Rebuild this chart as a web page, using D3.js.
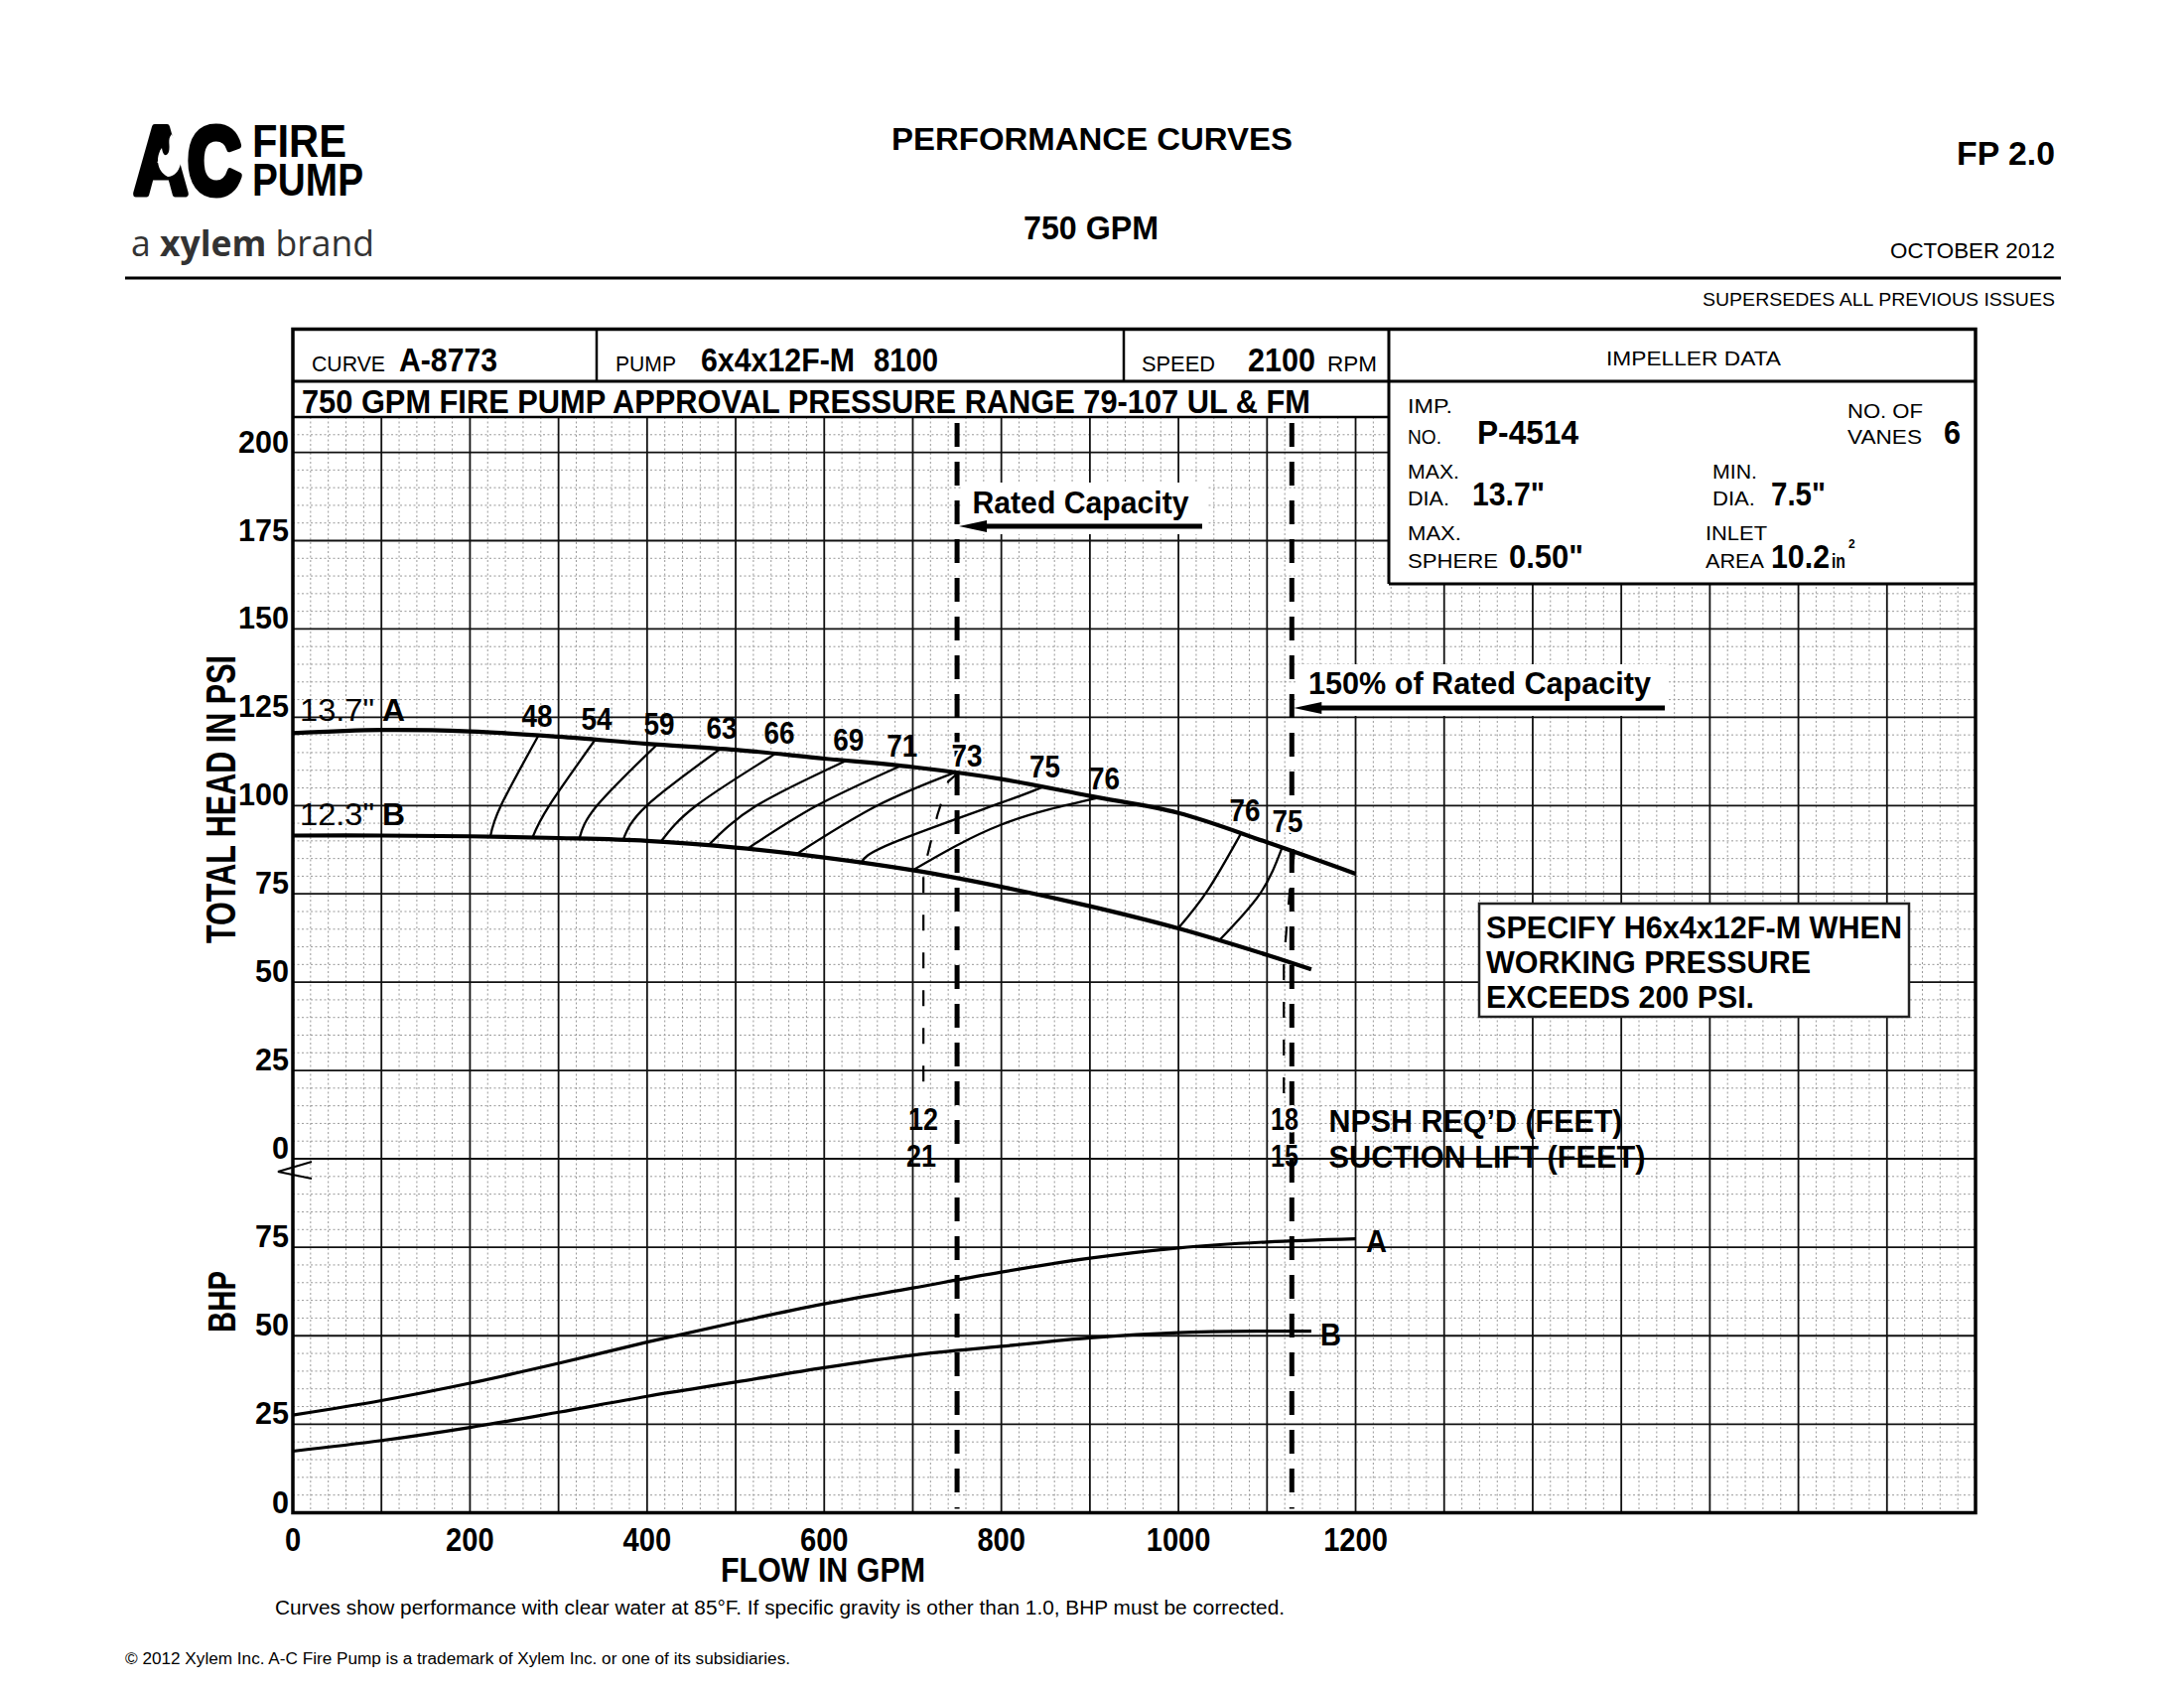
<!DOCTYPE html>
<html>
<head>
<meta charset="utf-8">
<script src="https://cdn.jsdelivr.net/npm/d3@7"></script>
<style>
  body { margin: 0; background: #fff; }
  svg { display: block; font-family: "Liberation Sans", Arial, Helvetica, sans-serif; }
</style>
</head>
<body>
<div id="wrapper"></div>
<script>
// values
const flowTicks = [0, 200, 400, 600, 800, 1000, 1200]
const headTicks = [0, 25, 50, 75, 100, 125, 150, 175, 200]
const bhpTicks = [0, 25, 50, 75]

// head curves (gpm -> psi)
const flowA = [0, 100, 200, 300, 400, 500, 600, 700, 800, 900, 1000, 1100, 1200]
const headA = [120.5, 121.4, 121.0, 119.5, 117.5, 115.8, 113.3, 110.9, 107.5, 102.7, 97.9, 89.6, 80.7]
const flowB = [0, 100, 200, 300, 400, 500, 600, 700, 800, 900, 1000, 1100, 1150]
const headB = [91.5, 91.5, 91.3, 90.8, 90.0, 88.1, 85.3, 81.7, 77.0, 71.5, 65.2, 57.7, 53.6]

// brake horsepower curves (gpm -> bhp)
const bhpA = [27.6, 31.7, 36.6, 42.2, 48.2, 53.8, 59.0, 63.5, 68.0, 71.9, 74.8, 76.5, 77.4]
const bhpB = [17.4, 20.4, 24.1, 28.4, 32.9, 36.9, 41.0, 44.5, 47.0, 49.4, 50.9, 51.3, 51.3]

// iso-efficiency lines, each from curve B up to curve A
const effValues = [48, 54, 59, 63, 66, 69, 71, 73, 75, 76, 76, 75]
const effLines = [
  [[223, 91.2], [235, 100], [277.5, 119.9]],
  [[271, 91.2], [289.5, 100], [341.5, 118.7]],
  [[323.5, 90.7], [343.5, 100], [411.4, 117.3]],
  [[373, 90.3], [399.6, 100], [483.6, 116.2]],
  [[415.6, 89.8], [455.6, 100], [545.7, 114.8]],
  [[469.7, 88.9], [523.7, 100], [623.8, 112.6]],
  [[513.5, 87.8], [591.8, 100], [685.9, 111.2]],
  [[569.5, 86.4], [660, 100], [750, 109.6]],
  [[641.8, 83.9], [678, 89.5], [800, 100.8], [848, 105.4]],
  [[700, 81.7], [800, 94.6], [910, 102.2]],
  [[999.6, 65.2], [1033, 76], [1070.6, 92.1]],
  [[1046.3, 61.9], [1092, 75], [1117, 88.1]],
]
// where each efficiency number sits (gpm, psi at baseline centre)
const effLabelAt = [
  [275.8, 122.4], [343, 121.4], [413.7, 120.0], [484.3, 118.9], [549.3, 117.5], [627.4, 115.5],
  [687.9, 113.9], [761.2, 111.1], [849.2, 108.0], [916.5, 104.6], [1075.1, 95.7], [1123.3, 92.5],
]

// NPSH limit lines
const npshLow = [[752, 109.5], [740, 106.8], [728, 97.5], [716, 85.3], [712, 81.5], [712, 18]]
const npshHigh = [[1131, 87], [1127, 80], [1121, 62], [1119, 55], [1119, 18]]

const ratedFlow = 750
const maxFlowLine = 1128

async function drawChart() {

  let dimensions = {
    width: 2200,
    height: 1700,
    left: 295,
    right: 1990,
    top: 420,
    zero: 1167,
    bottom: 1523.5,
  }

  const wrapper = d3.select("#wrapper")
    .append("svg")
    .attr("width", dimensions.width)
    .attr("height", dimensions.height)

  wrapper.append("rect")
    .attr("width", dimensions.width)
    .attr("height", dimensions.height)
    .attr("fill", "#fff")

  const xScale = d3.scaleLinear()
    .domain([0, 1900])
    .range([dimensions.left, dimensions.right])
  const headScale = d3.scaleLinear()
    .domain([0, 210])
    .range([dimensions.zero, dimensions.top])
  const bhpScale = d3.scaleLinear()
    .domain([0, 100])
    .range([dimensions.bottom, dimensions.zero])

  function label(g, s, x, y, o = {}) {
    const t = g.append("text")
      .attr("x", x)
      .attr("y", y)
      .attr("font-size", o.size || 32)
      .attr("font-weight", o.bold === false ? "normal" : "bold")
      .attr("text-anchor", o.anchor || "start")
      .attr("fill", o.fill || "#000")
      .text(s)
    if (o.len) t.attr("textLength", o.len).attr("lengthAdjust", "spacingAndGlyphs")
    if (o.halo) t.attr("stroke", "#fff").attr("stroke-width", 5).attr("paint-order", "stroke")
    return t
  }

  // ---------- grid ----------
  const grid = wrapper.append("g")
  const minorX = d3.range(20, 1900, 20).filter(v => v % 100)
  const minorHead = d3.range(5, 210, 5).filter(v => v % 25)
  const minorBhp = d3.range(5, 100, 5).filter(v => v % 25)

  grid.selectAll(".minor-x")
    .data(minorX)
    .enter().append("line")
    .attr("x1", d => xScale(d)).attr("x2", d => xScale(d))
    .attr("y1", dimensions.top).attr("y2", dimensions.bottom)
    .attr("stroke", "#999").attr("stroke-width", 1).attr("stroke-dasharray", "2,2.5")

  grid.selectAll(".minor-h")
    .data(minorHead)
    .enter().append("line")
    .attr("x1", dimensions.left).attr("x2", dimensions.right)
    .attr("y1", d => headScale(d)).attr("y2", d => headScale(d))
    .attr("stroke", "#999").attr("stroke-width", 1).attr("stroke-dasharray", "2,2.5")

  grid.selectAll(".minor-b")
    .data(minorBhp)
    .enter().append("line")
    .attr("x1", dimensions.left).attr("x2", dimensions.right)
    .attr("y1", d => bhpScale(d)).attr("y2", d => bhpScale(d))
    .attr("stroke", "#999").attr("stroke-width", 1).attr("stroke-dasharray", "2,2.5")

  grid.selectAll(".major-x")
    .data(d3.range(100, 1900, 100))
    .enter().append("line")
    .attr("x1", d => xScale(d)).attr("x2", d => xScale(d))
    .attr("y1", dimensions.top).attr("y2", dimensions.bottom)
    .attr("stroke", "#111").attr("stroke-width", 1.8)

  grid.selectAll(".major-h")
    .data(headTicks)
    .enter().append("line")
    .attr("x1", dimensions.left).attr("x2", dimensions.right)
    .attr("y1", d => headScale(d)).attr("y2", d => headScale(d))
    .attr("stroke", "#111").attr("stroke-width", 1.8)

  grid.selectAll(".major-b")
    .data(bhpTicks.filter(d => d > 0))
    .enter().append("line")
    .attr("x1", dimensions.left).attr("x2", dimensions.right)
    .attr("y1", d => bhpScale(d)).attr("y2", d => bhpScale(d))
    .attr("stroke", "#111").attr("stroke-width", 1.8)

  // ---------- capacity lines ----------
  const marks = wrapper.append("g")
  marks.selectAll(".cap")
    .data([ratedFlow, maxFlowLine])
    .enter().append("line")
    .attr("x1", d => xScale(d)).attr("x2", d => xScale(d))
    .attr("y1", dimensions.top + 6).attr("y2", dimensions.bottom - 4)
    .attr("stroke", "#000").attr("stroke-width", 5).attr("stroke-dasharray", "24,15")

  // NPSH dashed lines
  const npshLine = d3.line()
    .x(d => xScale(d[0]))
    .y(d => headScale(d[1]))
  marks.selectAll(".npsh")
    .data([npshLow, npshHigh])
    .enter().append("path")
    .attr("d", npshLine)
    .attr("fill", "none").attr("stroke", "#000").attr("stroke-width", 2.2)
    .attr("stroke-dasharray", "16,22")

  // efficiency lines
  const effLine = d3.line()
    .x(d => xScale(d[0]))
    .y(d => headScale(d[1]))
    .curve(d3.curveNatural)
  marks.selectAll(".eff")
    .data(effLines)
    .enter().append("path")
    .attr("d", effLine)
    .attr("fill", "none").attr("stroke", "#000").attr("stroke-width", 2.3)

  // head curves
  const headLine = d3.line()
    .x(d => xScale(d[0]))
    .y(d => headScale(d[1]))
    .curve(d3.curveCatmullRom)
  marks.selectAll(".head")
    .data([d3.zip(flowA, headA), d3.zip(flowB, headB)])
    .enter().append("path")
    .attr("d", headLine)
    .attr("fill", "none").attr("stroke", "#000").attr("stroke-width", 4.2)

  // bhp curves
  const bhpLine = d3.line()
    .x(d => xScale(d[0]))
    .y(d => bhpScale(d[1]))
    .curve(d3.curveCatmullRom)
  marks.selectAll(".bhp")
    .data([d3.zip(flowA, bhpA), d3.zip(flowB, bhpB)])
    .enter().append("path")
    .attr("d", bhpLine)
    .attr("fill", "none").attr("stroke", "#000").attr("stroke-width", 3.2)

  const notes = wrapper.append("g")

  // efficiency numbers (the two sitting on the capacity lines get a white halo)
  effValues.forEach((v, i) => {
    label(notes, v, xScale(effLabelAt[i][0]), headScale(effLabelAt[i][1]),
      { anchor: "middle", len: 31, halo: i === 7 || i === 11 })
  })

  // curve names
  label(notes, "13.7\"", 302, 726, { bold: false, len: 75 })
  label(notes, "A", 385, 726, { len: 23 })
  label(notes, "12.3\"", 302, 831, { bold: false, len: 75 })
  label(notes, "B", 385, 831, { len: 23 })
  label(notes, "A", 1376, 1261, { len: 21 })
  label(notes, "B", 1330, 1355, { len: 21 })

  // rated capacity callouts
  const arrow = (x1, x2, y) => {
    notes.append("rect")
      .attr("x", x1 + 4).attr("y", y - 44).attr("width", x2 - x1).attr("height", 52)
      .attr("fill", "#fff")
    notes.append("line")
      .attr("x1", x1 + 18).attr("x2", x2).attr("y1", y).attr("y2", y)
      .attr("stroke", "#000").attr("stroke-width", 5)
    notes.append("path")
      .attr("d", `M${x1 + 2},${y} L${x1 + 30},${y - 6} L${x1 + 30},${y + 6} Z`)
      .attr("fill", "#000")
  }
  arrow(xScale(ratedFlow), 1211, 530)
  label(notes, "Rated Capacity", 979.5, 517, { len: 218 })
  arrow(xScale(maxFlowLine), 1677, 713)
  label(notes, "150% of Rated Capacity", 1318, 699, { len: 345 })

  // NPSH numbers
  label(notes, "12", 930, 1138, { anchor: "middle", len: 30 })
  label(notes, "21", 928, 1175, { anchor: "middle", len: 30 })
  label(notes, "18", 1294, 1138, { anchor: "middle", len: 28, halo: true })
  label(notes, "15", 1294, 1175, { anchor: "middle", len: 28 })
  label(notes, "NPSH REQ\u2019D (FEET)", 1338.5, 1139.5, { len: 296 })
  label(notes, "SUCTION LIFT (FEET)", 1338.5, 1176, { len: 319 })

  // specify box
  notes.append("rect")
    .attr("x", 1490).attr("y", 910).attr("width", 433).attr("height", 114)
    .attr("fill", "#fff").attr("stroke", "#222").attr("stroke-width", 2.5)
  label(notes, "SPECIFY H6x4x12F-M WHEN", 1497, 945, { len: 419 })
  label(notes, "WORKING PRESSURE", 1497, 980, { len: 327 })
  label(notes, "EXCEEDS 200 PSI.", 1497, 1015, { len: 270 })

  // ---------- header table ----------
  const table = wrapper.append("g")
  table.append("rect")
    .attr("x", 1399).attr("y", 331.5).attr("width", dimensions.right - 1399).attr("height", 588 - 331.5)
    .attr("fill", "#fff")
  table.append("rect")
    .attr("x", dimensions.left).attr("y", 331.5).attr("width", 1399 - dimensions.left).attr("height", dimensions.top - 331.5)
    .attr("fill", "#fff")

  const rules = [
    [dimensions.left, 384, dimensions.right, 384, 3],
    [dimensions.left, dimensions.top, 1399, dimensions.top, 2.5],
    [601, 331.5, 601, 384, 2.5],
    [1132, 331.5, 1132, 384, 2.5],
    [1399, 331.5, 1399, 588, 3],
    [1399, 588, dimensions.right, 588, 3],
  ]
  table.selectAll(".rule")
    .data(rules)
    .enter().append("line")
    .attr("x1", d => d[0]).attr("y1", d => d[1]).attr("x2", d => d[2]).attr("y2", d => d[3])
    .attr("stroke", "#000").attr("stroke-width", d => d[4])

  table.append("rect")
    .attr("x", dimensions.left).attr("y", 331.5)
    .attr("width", dimensions.right - dimensions.left).attr("height", dimensions.bottom - 331.5)
    .attr("fill", "none").attr("stroke", "#000").attr("stroke-width", 3.5)

  label(table, "CURVE", 314, 374, { bold: false, size: 22, len: 74 })
  label(table, "A-8773", 402, 374, { size: 33, len: 99 })
  label(table, "PUMP", 620, 374, { bold: false, size: 22, len: 61 })
  label(table, "6x4x12F-M", 706, 374, { size: 33, len: 155 })
  label(table, "8100", 880, 374, { size: 33, len: 65 })
  label(table, "SPEED", 1150, 374, { bold: false, size: 22, len: 74 })
  label(table, "2100", 1257, 374, { size: 33, len: 68 })
  label(table, "RPM", 1337, 374, { bold: false, size: 22, len: 50 })
  label(table, "IMPELLER DATA", 1706, 368, { bold: false, size: 21, anchor: "middle", len: 176 })
  label(table, "750 GPM FIRE PUMP APPROVAL PRESSURE RANGE 79-107 UL & FM", 304, 416, { size: 33, len: 1016 })

  const small = { bold: false, size: 20 }
  label(table, "IMP.", 1418, 416, { ...small, len: 45 })
  label(table, "NO.", 1418, 447, { ...small, len: 34 })
  label(table, "P-4514", 1488, 447, { size: 34, len: 102 })
  label(table, "NO. OF", 1861, 421, { ...small, len: 76 })
  label(table, "VANES", 1861, 447, { ...small, len: 75 })
  label(table, "6", 1958, 447, { size: 34, len: 17 })
  label(table, "MAX.", 1418, 482, { ...small, len: 52 })
  label(table, "DIA.", 1418, 509, { ...small, len: 42 })
  label(table, "13.7\"", 1483, 509, { size: 34, len: 73 })
  label(table, "MIN.", 1725, 482, { ...small, len: 45 })
  label(table, "DIA.", 1725, 509, { ...small, len: 43 })
  label(table, "7.5\"", 1784, 509, { size: 34, len: 55 })
  label(table, "MAX.", 1418, 544, { ...small, len: 54 })
  label(table, "SPHERE", 1418, 572, { ...small, len: 91 })
  label(table, "0.50\"", 1520, 572, { size: 34, len: 75 })
  label(table, "INLET", 1718, 544, { ...small, len: 62 })
  label(table, "AREA", 1718, 572, { ...small, len: 59 })
  label(table, "10.2", 1784, 572, { size: 34, len: 59 })
  label(table, "in", 1845, 572, { size: 21, len: 14 })
  label(table, "2", 1862, 552, { size: 12 })

  // ---------- axes ----------
  const axes = wrapper.append("g")
  axes.selectAll(".head-tick")
    .data(headTicks)
    .enter().append("text")
    .attr("x", 291)
    .attr("y", d => headScale(d))
    .attr("text-anchor", "end")
    .attr("font-size", 32)
    .attr("font-weight", "bold")
    .attr("textLength", d => String(d).length * 17)
    .attr("lengthAdjust", "spacingAndGlyphs")
    .text(d => d)

  axes.selectAll(".bhp-tick")
    .data(bhpTicks)
    .enter().append("text")
    .attr("x", 291)
    .attr("y", d => bhpScale(d))
    .attr("text-anchor", "end")
    .attr("font-size", 32)
    .attr("font-weight", "bold")
    .attr("textLength", d => String(d).length * 17)
    .attr("lengthAdjust", "spacingAndGlyphs")
    .text(d => d)

  axes.selectAll(".flow-tick")
    .data(flowTicks)
    .enter().append("text")
    .attr("x", d => xScale(d))
    .attr("y", 1562)
    .attr("text-anchor", "middle")
    .attr("font-size", 34)
    .attr("font-weight", "bold")
    .attr("textLength", d => String(d).length * 16.2)
    .attr("lengthAdjust", "spacingAndGlyphs")
    .text(d => d)

  // axis break mark at zero
  axes.append("path")
    .attr("d", `M314,${dimensions.zero + 3} L280,${dimensions.zero + 13} L314,${dimensions.zero + 20}`)
    .attr("fill", "none").attr("stroke", "#000").attr("stroke-width", 2)

  label(axes, "TOTAL HEAD IN PSI", 0, 0, { size: 43, anchor: "middle", len: 290 })
    .attr("transform", "translate(237,805) rotate(-90)")
  label(axes, "BHP", 0, 0, { size: 39, anchor: "middle", len: 62 })
    .attr("transform", "translate(237,1311) rotate(-90)")
  label(axes, "FLOW IN GPM", 829, 1593, { size: 35, anchor: "middle", len: 206 })

  label(axes, "Curves show performance with clear water at 85\u00b0F. If specific gravity is other than 1.0, BHP must be corrected.",
    277, 1626, { bold: false, size: 20, len: 1017 })
  label(axes, "\u00a9 2012 Xylem Inc. A-C Fire Pump is a trademark of Xylem Inc. or one of its subsidiaries.",
    126, 1676, { bold: false, size: 16, len: 670 })

  // ---------- page header ----------
  const head = wrapper.append("g")
  label(head, "PERFORMANCE CURVES", 1100, 151, { size: 32, anchor: "middle", len: 404 })
  label(head, "750 GPM", 1099, 241, { size: 33, anchor: "middle", len: 136 })
  label(head, "FP 2.0", 2070, 166, { size: 33, anchor: "end", len: 99 })
  label(head, "OCTOBER 2012", 2070, 260, { bold: false, size: 22, anchor: "end", len: 166 })
  label(head, "SUPERSEDES ALL PREVIOUS ISSUES", 2070, 308, { bold: false, size: 19, anchor: "end", len: 355 })
  head.append("line")
    .attr("x1", 126).attr("x2", 2076).attr("y1", 280).attr("y2", 280)
    .attr("stroke", "#000").attr("stroke-width", 3)

  // logo
  label(head, "AC", 135, 195, { size: 96, len: 108 })
    .attr("stroke", "#000").attr("stroke-width", 7).attr("stroke-linejoin", "round")
  head.append("path")
    .attr("d", "M169,178 C157,172 157,157 163,149 C164,156 167,159 170,153 C172,146 168,141 173,135 C177,145 185,152 182,165 C180,173 175,178 169,178 Z")
    .attr("fill", "#fff")
  label(head, "FIRE", 254, 158, { size: 46, len: 95 })
  label(head, "PUMP", 254, 197, { size: 46, len: 112 })
  const brand = head.append("text")
    .attr("x", 132).attr("y", 258)
    .attr("font-size", 36)
    .attr("font-family", "'Open Sans', 'Liberation Sans', sans-serif")
    .attr("fill", "#333")
    .attr("textLength", 245).attr("lengthAdjust", "spacingAndGlyphs")
  brand.append("tspan").text("a ")
  brand.append("tspan").attr("font-weight", "bold").text("xylem")
  brand.append("tspan").text(" brand")
}

drawChart()
</script>
</body>
</html>
